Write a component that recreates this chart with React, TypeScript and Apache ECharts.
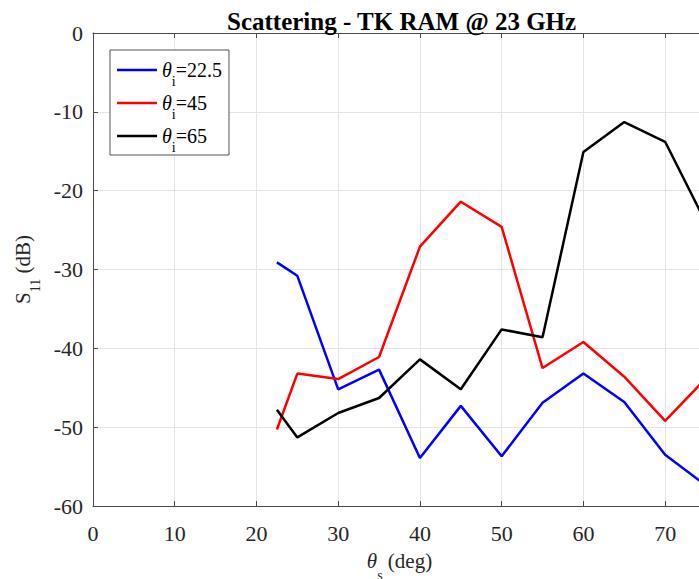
import React, { useEffect, useRef } from 'react';
import * as echarts from 'echarts';

// scattering angle theta_s (deg)
const thetaS = [22.5, 25, 30, 35, 40, 45, 50, 55, 60, 65, 70, 75];
// S11 (dB) for each incidence angle
const s11Inc22 = [-29.1, -30.8, -45.2, -42.7, -53.9, -47.3, -53.7, -46.9, -43.2, -46.8, -53.5, -57.4];
const s11Inc45 = [-50.3, -43.2, -43.9, -41.1, -27.1, -21.4, -24.6, -42.5, -39.2, -43.6, -49.2, -43.8];
const s11Inc65 = [-47.8, -51.3, -48.2, -46.3, -41.4, -45.2, -37.6, -38.6, -15.1, -11.3, -13.8, -24.1];

const seriesNames = ['22.5', '45', '65'];
const seriesValues = [s11Inc22, s11Inc45, s11Inc65];
const seriesColors = ['#0000ff', '#ff0000', '#000000'];

const xMin = 0;
const xMax = 75;
const xInterval = 10;
const yMin = -60;
const yMax = 0;
const yInterval = 10;

const titleText = 'Scattering - TK RAM @ 23 GHz';

const FONT = '"Liberation Serif", "Times New Roman", Times, serif';
const AXIS_COLOR = '#4a4a4a';
const GRID_COLOR = '#e4e4e4';
const TEXT_COLOR = '#262626';

// rich-text styles giving a main line and a lowered subscript
const subRich = (size: number, subSize: number, lh: number, italicMain: boolean, color: string) => ({
  t: { fontFamily: FONT, fontSize: size, fontStyle: italicMain ? 'italic' : 'normal', height: 24, lineHeight: lh, verticalAlign: 'top', color },
  n: { fontFamily: FONT, fontSize: size, height: 24, lineHeight: lh, verticalAlign: 'top', color },
  s: { fontFamily: FONT, fontSize: subSize, height: 2, lineHeight: lh, verticalAlign: 'bottom', color },
});

export default function App() {
  const ref = useRef<HTMLDivElement>(null);

  useEffect(() => {
    if (!ref.current) return;
    const chart = echarts.init(ref.current, undefined, { renderer: 'svg' });

    const series = seriesNames.map((name, i) => ({
      name,
      type: 'line',
      xAxisIndex: 0,
      yAxisIndex: 0,
      data: thetaS.map((x, j) => [x, seriesValues[i][j]]),
      symbol: 'none',
      showSymbol: false,
      lineStyle: { color: seriesColors[i], width: 2.5 },
      itemStyle: { color: seriesColors[i] },
      clip: true,
    }));

    const option: any = {
      animation: false,
      backgroundColor: '#ffffff',
      title: {
        text: titleText,
        left: 222,
        top: 4,
        textStyle: { fontFamily: FONT, fontSize: 25, fontWeight: 'bold', color: '#000' },
      },
      grid: { left: 93, right: -7, top: 33, bottom: 73, outerBoundsMode: 'none', containLabel: false },
      legend: {
        orient: 'vertical',
        left: 110,
        top: 50,
        padding: [8, 7, 1, 7],
        icon: 'rect',
        itemWidth: 40,
        itemHeight: 2.5,
        itemGap: 3,
        borderColor: '#555555',
        borderWidth: 1,
        backgroundColor: '#ffffff',
        data: seriesNames,
        formatter: (name: string) => `{t|θ}{s|i}{n|=${name}}`,
        textStyle: { fontFamily: FONT, fontSize: 20, color: '#000', rich: subRich(20, 14, 24, true, '#000') },
      },
      xAxis: [
        {
          type: 'value',
          min: xMin,
          max: xMax,
          interval: xInterval,
          position: 'bottom',
          name: '{t|θ}{s|s}{n| (deg)}',
          nameLocation: 'middle',
          nameGap: 36,
          nameTextStyle: { fontFamily: FONT, fontSize: 21, color: TEXT_COLOR, rich: subRich(21, 14, 28, true, TEXT_COLOR) },
          axisLine: { show: true, onZero: false, lineStyle: { color: AXIS_COLOR, width: 1 } },
          axisTick: { show: true, inside: true, length: 5, lineStyle: { color: AXIS_COLOR } },
          axisLabel: { show: true, margin: 16, fontFamily: FONT, fontSize: 22, color: TEXT_COLOR, showMaxLabel: false },
          splitLine: { show: true, lineStyle: { color: GRID_COLOR, width: 1 } },
        },
        {
          type: 'value',
          min: xMin,
          max: xMax,
          interval: xInterval,
          position: 'top',
          axisLine: { show: true, onZero: false, lineStyle: { color: AXIS_COLOR, width: 1 } },
          axisTick: { show: true, inside: true, length: 5, lineStyle: { color: AXIS_COLOR } },
          axisLabel: { show: false },
          splitLine: { show: false },
        },
      ],
      yAxis: [
        {
          type: 'value',
          min: yMin,
          max: yMax,
          interval: yInterval,
          position: 'left',
          name: '{n|S}{s|11}{n| (dB)}',
          nameLocation: 'middle',
          nameRotate: 90,
          nameGap: 54,
          nameTextStyle: { fontFamily: FONT, fontSize: 21, color: TEXT_COLOR, rich: subRich(21, 14, 26, false, TEXT_COLOR) },
          axisLine: { show: true, onZero: false, lineStyle: { color: AXIS_COLOR, width: 1 } },
          axisTick: { show: true, inside: true, length: 5, lineStyle: { color: AXIS_COLOR } },
          axisLabel: { show: true, margin: 10, fontFamily: FONT, fontSize: 22, color: TEXT_COLOR },
          splitLine: { show: true, lineStyle: { color: GRID_COLOR, width: 1 } },
        },
      ],
      series,
    };

    chart.setOption(option);
    return () => chart.dispose();
  }, []);

  return (
    <div ref={ref} style={{ position: 'fixed', left: 0, top: 0, width: 699, height: 579, background: '#fff' }} />
  );
}
